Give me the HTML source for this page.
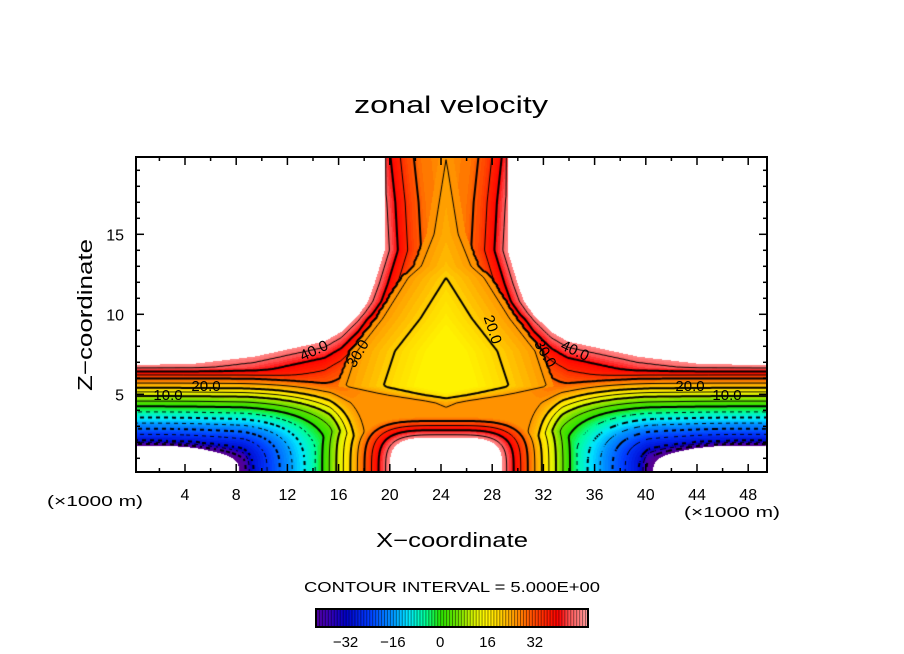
<!DOCTYPE html>
<html><head><meta charset="utf-8">
<style>
html,body{margin:0;padding:0;background:#fff;}
#wrap{position:relative;width:904px;height:654px;overflow:hidden;background:#fff;font-family:"Liberation Sans",sans-serif;}
#field{position:absolute;left:136px;top:157px;}
svg{position:absolute;left:0;top:0;}
</style></head>
<body>
<div id="wrap">
<canvas id="field" width="631" height="315"></canvas>
<svg id="ov" width="904" height="654"></svg>
</div>
<script>
// ---- field profile data ----
const PZ_z=[0,1,1.8,2.1,2.5,2.85,3.2,3.55,3.9,4.25,4.9,5.4,6.0,6.2,6.4,6.6,6.75];
const PZ_v=[-70,-55,-45,-30,-25,-20,-15,-10,-5,0,10,20,30,35,40,45,60];
const X_d=[0,6.1,7.6,9.1,13,15.8,18.4,20.4,25];
const X_v=[8,6.0,5.1,4.25,2.85,1.85,1.5,1.1,0];
const W_z=[0,6.6,6.75,6.9,7.35,8.3,8.9,10,10.8,11.9,14,17,20];
const W_d=[40,40,30,19.8,15,9.5,8.2,6.8,6.1,5.6,4.8,5.0,5.4];
const E_e=[0,0.5,1.3,2.3,3.4,5,40];
const E_v=[48,44,38,32,28,26,26];
const B_z=[3.5,4.5,5.0,5.5,7.7,9.75,12.3,13,15,17.5,20];
const B_d=[-5,-2,2,4.9,4.0,2.0,0,-1,-2,-2.5,-3];
const HOLE=[4.4,2.3];
const CENTER=24.4;
const xTicks=[4,8,12,16,20,24,28,32,36,40,44,48];
const yTicks=[5,10,15];
const cbTicks=[-32,-16,0,16,32];
const levels=[-40,-35,-30,-25,-20,-15,-10,-5,0,5,10,15,20,25,30,35,40,45];

// axis functions
const XS=v=>133.8+12.8*v;
const ZS=v=>474.3-16*v;
const CB=v=>316+(v+42)*272/92;

function interp(xs,ys,x){
  if(x<=xs[0])return ys[0];
  for(let i=1;i<xs.length;i++){ if(x<=xs[i]){const t=(x-xs[i-1])/(xs[i]-xs[i-1]);return ys[i-1]+t*(ys[i]-ys[i-1]);} }
  return ys[ys.length-1];
}
const zCache={};
function Zb(d){
  const k=Math.round(d*50);
  if(zCache[k]!==undefined)return zCache[k];
  let r=99;
  for(let z=6.6;z<=20;z+=0.02){ if(interp(W_z,W_d,z)<d){r=z;break;} }
  zCache[k]=r;return r;
}
function smax(a,b,k){const m=Math.max(a,b);return m+k*Math.log(Math.exp((a-m)/k)+Math.exp((b-m)/k));}
function smin(a,b,k){return -smax(-a,-b,k);}
function field(x,z){
  const d=Math.abs(x-CENTER);
  const X=interp(X_d,X_v,d);
  const zz=Math.max(z,0),p=3.5;
  const rho=Math.pow(Math.pow(X,p)+Math.pow(zz,p),1/p);
  const uo=interp(PZ_z,PZ_v,rho);
  const e=Math.min(interp(W_z,W_d,z)-d,Zb(d)-z);
  const uc=e<0?60:interp(E_e,E_v,e);
  let ub=Math.max(16,20+1.7*(d-interp(B_z,B_d,z)));
  if(ub>26)ub=99;
  const ui=Math.min(uc,ub);
  let u=smin(uo,ui,3);
  const r=Math.pow(Math.pow(d/HOLE[0],4)+Math.pow(z/HOLE[1],4),0.25);
  const uh=r<1?60:48-40*(r-1);
  return Math.max(u,uh);
}
const stops=[[-45,90,0,140],[-38,60,0,180],[-32,0,0,200],[-24,0,60,255],[-16,0,150,255],[-11,0,230,255],[-5,0,255,150],[0,40,225,0],[6,110,225,0],[11,210,240,0],[15,255,245,0],[19,255,220,0],[24,255,165,0],[30,255,90,0],[36,255,30,0],[40,255,0,0],[44,255,90,90],[50,255,160,160]];
function cmap(v){
  if(v<=stops[0][0])return stops[0].slice(1);
  for(let i=1;i<stops.length;i++){ if(v<=stops[i][0]){const a=stops[i-1],b=stops[i],t=(v-a[0])/(b[0]-a[0]);return [a[1]+t*(b[1]-a[1]),a[2]+t*(b[2]-a[2]),a[3]+t*(b[3]-a[3])];} }
  return stops[stops.length-1].slice(1);
}
// ---- fill ----
const cv=document.getElementById('field');const ctx=cv.getContext('2d');
const W=cv.width,H=cv.height;const img=ctx.createImageData(W,H);
for(let j=0;j<H;j++){const z=(474.3-(157+j+0.5))/16;
  for(let i=0;i<W;i++){const x=(136+i+0.5-133.8)/12.8;const u=field(x,z);const p=(j*W+i)*4;
    if(u>=48.5||u<=-45){img.data[p]=255;img.data[p+1]=255;img.data[p+2]=255;}
    else{const c=cmap(Math.floor(u)+0.5);img.data[p]=c[0];img.data[p+1]=c[1];img.data[p+2]=c[2];}
    img.data[p+3]=255;}}
ctx.putImageData(img,0,0);
// ---- contours (marching squares) ----
const S=2,gx=Math.ceil(W/S)+1,gy=Math.ceil(H/S)+1;const G=[];
for(let j=0;j<gy;j++){const row=[];const z=(474.3-(157+j*S))/16;for(let i=0;i<gx;i++){row.push(field((136+i*S-133.8)/12.8,z));}G.push(row);}
ctx.strokeStyle='#000';
for(const L of levels){
  ctx.lineWidth=(L%10===0)?2:1;ctx.beginPath();
  for(let j=0;j<gy-1;j++)for(let i=0;i<gx-1;i++){
    const a=G[j][i],b=G[j][i+1],c=G[j+1][i+1],d=G[j+1][i];
    const pts=[];
    const edge=(v1,v2,x1,y1,x2,y2)=>{if((v1<L)!==(v2<L)){const t=(L-v1)/(v2-v1);pts.push([x1+t*(x2-x1),y1+t*(y2-y1)]);}};
    edge(a,b,i,j,i+1,j);edge(b,c,i+1,j,i+1,j+1);edge(c,d,i+1,j+1,i,j+1);edge(d,a,i,j+1,i,j);
    if(L<0&&(((i+j)>>1)&1))continue;
    for(let k=0;k+1<pts.length;k+=2){ctx.moveTo(pts[k][0]*S,pts[k][1]*S);ctx.lineTo(pts[k+1][0]*S,pts[k+1][1]*S);}
  }
  ctx.stroke();
}
// ---- overlay: axes, labels ----
const NS='http://www.w3.org/2000/svg';const ov=document.getElementById('ov');
function mk(tag,attrs,parent){const e=document.createElementNS(NS,tag);for(const k in attrs)e.setAttribute(k,attrs[k]);(parent||ov).appendChild(e);return e;}
function txt(s,x,y,size,anchor,extra){const t=mk('text',Object.assign({x:x,y:y,'font-size':size,'text-anchor':anchor||'middle','font-family':'Liberation Sans, sans-serif',fill:'#000'},extra||{}));t.textContent=s;return t;}

const frame=mk('rect',{x:136,y:157,width:631,height:315,fill:'none',stroke:'#000','stroke-width':2});


for(let v=2;v<=48;v+=2){const px=XS(v);const len=(v%4===0)?8:4;
  mk('line',{x1:px,y1:472,x2:px,y2:472-len,stroke:'#000','stroke-width':1.5});
  mk('line',{x1:px,y1:157,x2:px,y2:157+len,stroke:'#000','stroke-width':1.5});}
for(const v of xTicks){const t=txt(String(v),XS(v),500,16);
  
  }
for(let v=1;v<=19;v++){const py=ZS(v);const len=(v%5===0)?8:4;
  mk('line',{x1:136,y1:py,x2:136+len,y2:py,stroke:'#000','stroke-width':1.5});
  mk('line',{x1:767,y1:py,x2:767-len,y2:py,stroke:'#000','stroke-width':1.5});}
for(const v of yTicks){const t=txt(String(v),124,ZS(v)+6,16,'end');
  
  }
const tt=txt('zonal velocity',451,113,24,'middle',{textLength:194,lengthAdjust:'spacingAndGlyphs'});


const xt=txt('X\u2212coordinate',452,547,20,'middle',{textLength:152,lengthAdjust:'spacingAndGlyphs'});


const yt=txt('Z\u2212coordinate',0,0,20,'middle',{transform:'translate(92,315) rotate(-90)',textLength:152,lengthAdjust:'spacingAndGlyphs'});


const u1=txt('(\u00d71000 m)',95,506,15,'middle',{textLength:96,lengthAdjust:'spacingAndGlyphs'});


const u2=txt('(\u00d71000 m)',732,517,15,'middle',{textLength:96,lengthAdjust:'spacingAndGlyphs'});


const ci=txt('CONTOUR INTERVAL = 5.000E+00',452,592,15,'middle',{textLength:296,lengthAdjust:'spacingAndGlyphs'});


const cl=[['40.0',316,355,-25],['30.0',362,356,-60],['20.0',206,391,0],['10.0',168,400,0],['40.0',573,355,25],['30.0',541,356,60],['20.0',690,391,0],['10.0',727,400,0],['20.0',488,331,72]];
for(const c of cl){const t=txt(c[0],0,0,15,'middle',{transform:'translate('+c[1]+','+c[2]+') rotate('+c[3]+')'});
  
  }
const cbg=mk('g',{});


for(let v=-42;v<50;v+=1){const c=cmap(v+0.5);
  mk('rect',{x:CB(v),y:609,width:272/92+0.3,height:18,fill:'rgb('+c.map(Math.round).join(',')+')'},cbg);
  mk('line',{x1:CB(v)+0.5,y1:609,x2:CB(v)+0.5,y2:627,stroke:'rgba(0,0,0,0.45)','stroke-width':1},cbg);}
mk('rect',{x:316,y:609,width:272,height:18,fill:'none',stroke:'#000','stroke-width':2},cbg);
for(const v of cbTicks){const t=txt(v<0?'\u2212'+Math.abs(v):String(v),CB(v),647,15);
  
  }
</script>
</body></html>
